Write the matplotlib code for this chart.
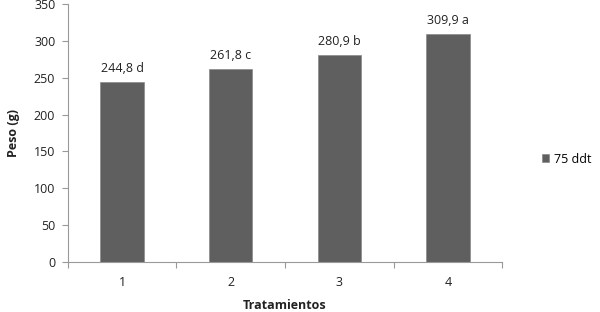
import matplotlib
matplotlib.use("Agg")
import matplotlib.pyplot as plt
from matplotlib.patches import Patch

categories = ["1", "2", "3", "4"]
values = [244.8, 261.8, 280.9, 309.9]
labels = ["244,8 d", "261,8 c", "280,9 b", "309,9 a"]
series_name = "75 ddt"
yticks = [0, 50, 100, 150, 200, 250, 300, 350]

plt.rcParams['font.family'] = ['Open Sans', 'DejaVu Sans']
fig = plt.figure(figsize=(6, 3.12), dpi=100)
ax = fig.add_axes([0.113, 0.160, 0.724, 0.827])

fs = 9
x = list(range(1, len(categories) + 1))
bar_color = "#5f5f5f"
ax.bar(x, values, width=0.4, color=bar_color, edgecolor="#8a8a8a", linewidth=0.5, zorder=2)
for xi, v, lab in zip(x, values, labels):
    ax.text(xi, v + 9, lab, ha="center", va="bottom", fontsize=fs, color="#222222")

ax.set_xlim(0.5, len(categories) + 0.5)
ax.set_ylim(0, 350)
ax.set_yticks(yticks)
ax.set_yticklabels([str(t) for t in yticks], fontsize=fs, color="#222222")
ax.set_xticks(x)
ax.set_xticklabels(categories, fontsize=fs, color="#222222")
ax.tick_params(axis="x", length=0, pad=10)
ax.set_xticks([i + 0.5 for i in range(len(categories) + 1)], minor=True)
ax.tick_params(axis="x", which="minor", length=4, color="#999999", width=0.8)
ax.tick_params(axis="y", length=4, color="#999999", width=0.8, pad=5)

for s in ["top", "right"]:
    ax.spines[s].set_visible(False)
for s in ["left", "bottom"]:
    ax.spines[s].set_color("#999999")
    ax.spines[s].set_linewidth(0.8)

ax.set_ylabel("Peso (g)", fontsize=fs, fontweight="bold", color="#222222", labelpad=10)
ax.set_xlabel("Tratamientos", fontsize=fs, fontweight="bold", color="#222222", va="center")
ax.xaxis.set_label_coords(0.5, -0.168)

handle = Patch(facecolor=bar_color, edgecolor="#8a8a8a", linewidth=0.5)
fig.legend([handle], [series_name], loc="center left", bbox_to_anchor=(0.903, 0.49),
           frameon=False, fontsize=fs, handlelength=0.6, handleheight=0.6, handletextpad=0.4,
           borderpad=0, borderaxespad=0)

fig.savefig("out.png", dpi=100)
